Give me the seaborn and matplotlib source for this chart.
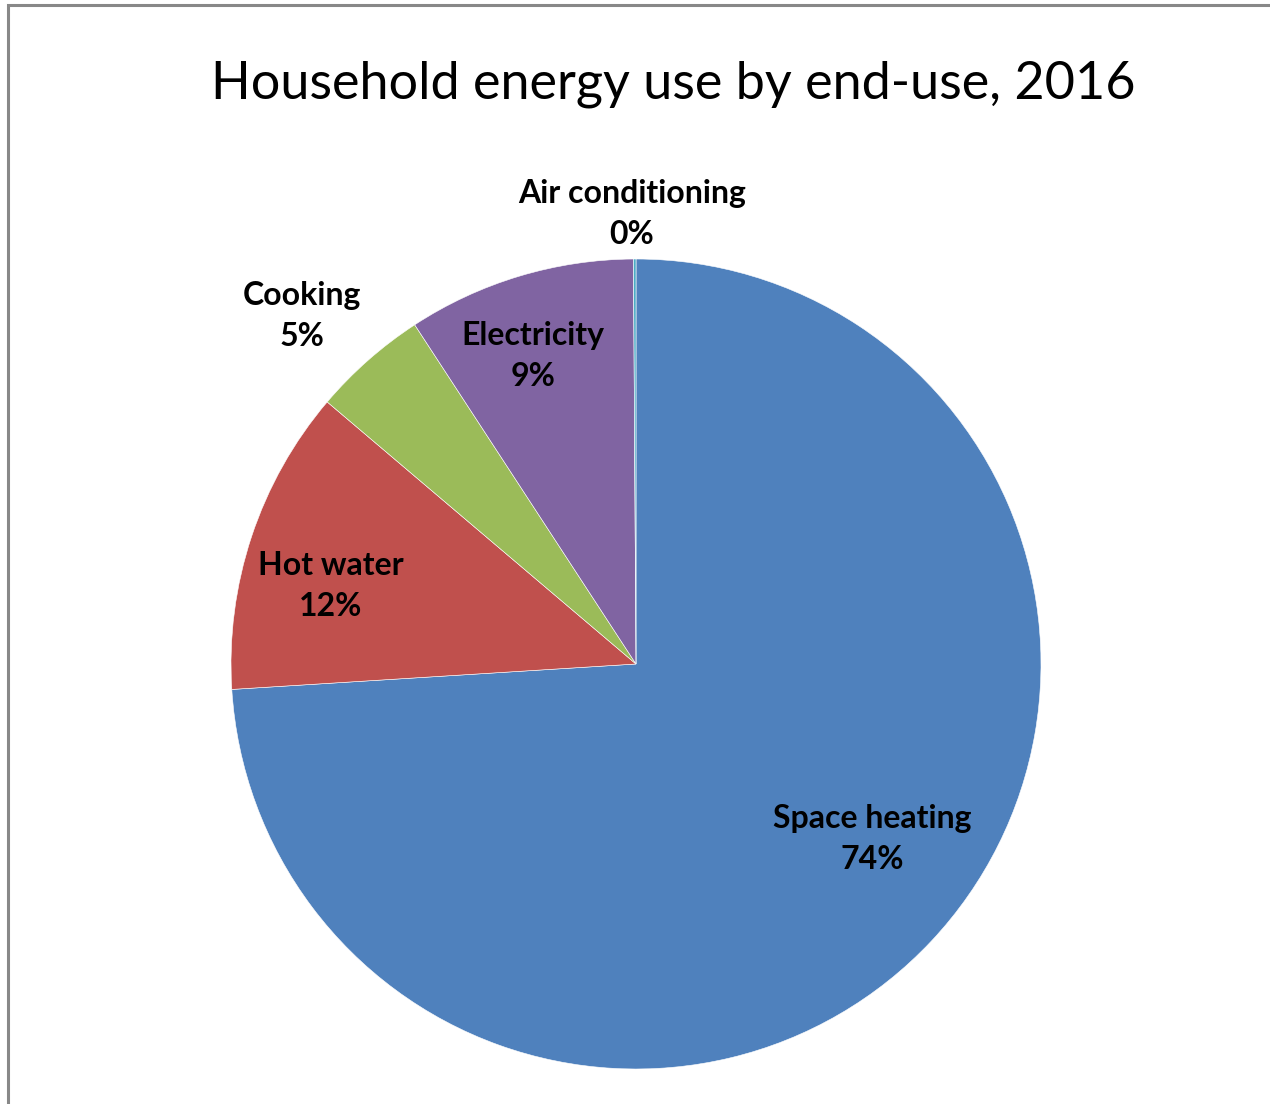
import matplotlib
matplotlib.use("Agg")
import matplotlib.pyplot as plt
import matplotlib.patches as mpatches
import seaborn as sns

sns.set_theme(style="white")
plt.rcParams["font.family"] = ["Lato", "DejaVu Sans"]

# Household end-use shares (%), clockwise from 12 o'clock
categories = ["Space heating", "Hot water", "Cooking", "Electricity", "Air conditioning"]
shares = [74.0, 12.2, 4.6, 9.1, 0.1]
colors = ["#4F81BD", "#C0504D", "#9BBB59", "#8064A2", "#4BACC6"]

# Label anchor points in pie units (radius = 1)
label_pos = {
    "Space heating": (0.583, -0.432),
    "Hot water": (-0.753, 0.193),
    "Cooking": (-0.825, 0.859),
    "Electricity": (-0.254, 0.760),
    "Air conditioning": (-0.010, 1.111),
}

W, H = 1270, 1104
fig = plt.figure(figsize=(W / 100, H / 100), dpi=100)
fig.patch.set_facecolor("white")

cx, cy, r = 636, 664, 405
ax = fig.add_axes([(cx - r) / W, (H - cy - r) / H, 2 * r / W, 2 * r / H])
ax.pie(shares, colors=colors, startangle=90, counterclock=False,
       wedgeprops=dict(edgecolor="white", linewidth=0.4))
ax.set_xlim(-1, 1)
ax.set_ylim(-1, 1)
ax.set_aspect("equal")
ax.axis("off")

for name, val in zip(categories, shares):
    x, y = label_pos[name]
    ax.text(x, y, f"{name}\n{val:.0f}%", ha="center", va="center",
            fontsize=23, fontweight="bold", color="black",
            linespacing=1.5, clip_on=False)

fig.text(673 / W, 1 - 84 / H, "Household energy use by end-use, 2016",
         ha="center", va="center", fontsize=37.5, color="black")

# Chart-area frame
fig.patches.append(mpatches.Rectangle((8 / W, -0.1), 1.2, 1 - 5 / H + 0.1,
                                      transform=fig.transFigure, fill=False,
                                      edgecolor="#888888", linewidth=2.2))

fig.savefig("out.png", dpi=100, facecolor="white")
